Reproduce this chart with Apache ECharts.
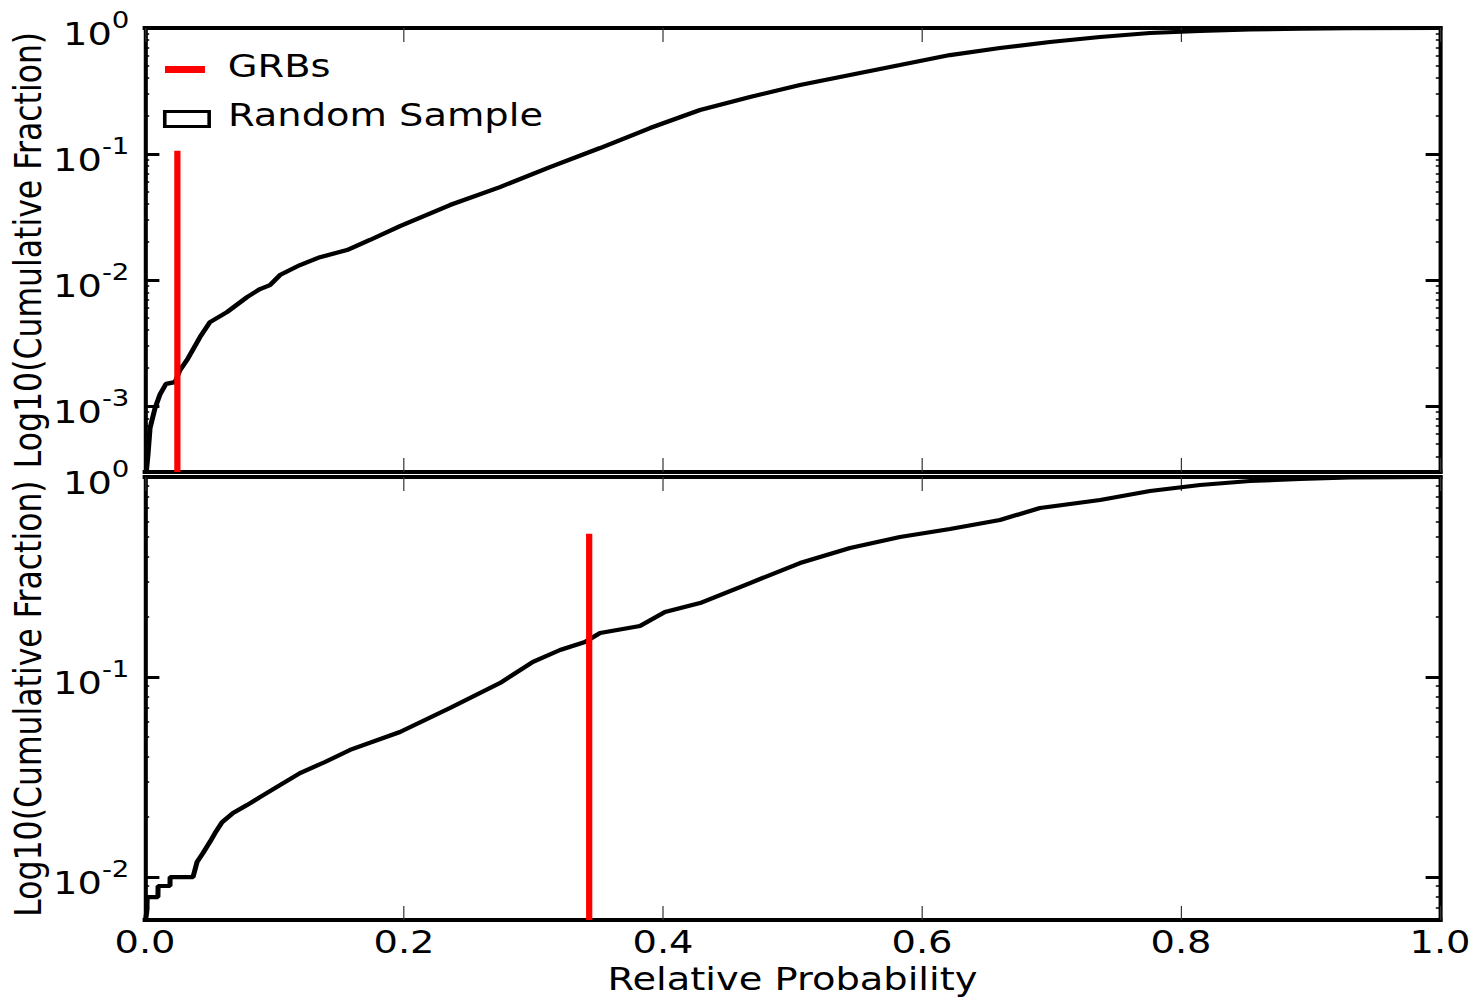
<!DOCTYPE html>
<html>
<head>
<meta charset="utf-8">
<script src="https://cdn.jsdelivr.net/npm/echarts@6/dist/echarts.min.js"></script>
<style>
  html, body { margin: 0; padding: 0; background: #fff; overflow: hidden; }
  #wrap { width: 1481px; height: 1002px; overflow: hidden; }
  /* figure is laid out 1234 px wide and stretched horizontally to 1481 px */
  #chart { width: 1234.17px; height: 1002px; transform: scaleX(1.2); transform-origin: 0 0; }
</style>
</head>
<body>
<div id="wrap"><div id="chart"></div></div>
<script>
// Upper panel: cumulative fraction of the random sample vs. relative probability
const topProb = [0.001, 0.0023, 0.0039, 0.0077, 0.0116, 0.0162, 0.0232, 0.027, 0.0324, 0.0425,
  0.0502, 0.0633, 0.0788, 0.0888, 0.0965, 0.1042, 0.1197, 0.1351, 0.156, 0.1737,
  0.1969, 0.2355, 0.2741, 0.3127, 0.3514, 0.39, 0.4286, 0.4672, 0.5058, 0.5444,
  0.583, 0.6216, 0.6602, 0.6988, 0.7375, 0.7761, 0.8147, 0.8533, 0.892, 0.93, 1.0];
const topFrac = [0.0003, 0.00041, 0.00067, 0.00096, 0.00124, 0.0015, 0.00155, 0.00193, 0.00232, 0.00353,
  0.00464, 0.00557, 0.00733, 0.00849, 0.00912, 0.01096, 0.01316, 0.0152, 0.0173, 0.0208,
  0.0268, 0.0394, 0.0547, 0.0788, 0.1116, 0.1608, 0.2234, 0.2832, 0.353, 0.4237,
  0.508, 0.610, 0.694, 0.774, 0.848, 0.913, 0.947, 0.973, 0.987, 0.996, 1.0];

// Lower panel
const bottomProb = [0.0005, 0.0015, 0.0017, 0.01, 0.0101, 0.0193, 0.0194, 0.0371, 0.0402, 0.0448,
  0.0502, 0.0541, 0.0595, 0.068, 0.0788, 0.0888, 0.1042, 0.1197, 0.139, 0.1583,
  0.1969, 0.2355, 0.2741, 0.2996, 0.3205, 0.3398, 0.3514, 0.3822, 0.4015, 0.4286,
  0.4672, 0.5058, 0.5444, 0.583, 0.6216, 0.6602, 0.6911, 0.7375, 0.7761, 0.8147,
  0.8533, 0.892, 0.93, 1.0];
const bottomFrac = [0.0061, 0.00684, 0.00794, 0.00794, 0.00902, 0.00902, 0.01, 0.01, 0.0119, 0.0132,
  0.015, 0.0166, 0.0188, 0.0209, 0.0229, 0.0251, 0.0288, 0.0331, 0.0376, 0.0432,
  0.0531, 0.070, 0.0933, 0.119, 0.1365, 0.1496, 0.166, 0.180, 0.2113, 0.2344,
  0.2951, 0.3715, 0.4416, 0.501, 0.5495, 0.6095, 0.700, 0.767, 0.851, 0.912,
  0.955, 0.977, 0.994, 1.0];

// GRB markers (upper, lower): position and top of the vertical bar
const grbProb = [0.025, 0.343];
const grbTop = [0.106, 0.52];

// Axis ranges
const fracMin = [3e-4, 0.0061];
const probTicks = [0, 0.2, 0.4, 0.6, 0.8, 1.0];

const FONT = 'DejaVu Sans';
const pairs = (xs, ys) => xs.map((x, i) => [x, ys[i]]);

function powLabel(v) {
  const lg = Math.log10(v);
  const e = Math.round(lg);
  if (Math.abs(lg - e) > 1e-6) return '';
  return '{b|10}{s|' + e + '}';
}

function xAxisFor(gi, pos, showLabel) {
  return {
    type: 'value', gridIndex: gi, position: pos,
    min: probTicks[0], max: probTicks[probTicks.length - 1], interval: 0.2,
    axisLine: { show: true, onZero: false, lineStyle: { color: '#000', width: 4, cap: 'square' } },
    axisTick: { show: true, inside: true, length: 14, lineStyle: { color: '#333', width: 1 } },
    axisLabel: {
      show: showLabel, margin: 6, fontSize: 32, fontFamily: FONT, color: '#000',
      formatter: v => v.toFixed(1)
    },
    splitLine: { show: false }
  };
}

function yAxisFor(gi, pos, min, showLabel) {
  const ax = {
    type: 'log', logBase: 10, gridIndex: gi, position: pos, min: min, max: 1,
    axisLine: { show: true, onZero: false, lineStyle: { color: '#000', width: 3.4, cap: 'square' } },
    axisTick: { show: true, inside: true, length: 12, lineStyle: { color: '#000', width: 3 } },
    minorTick: { show: true, splitNumber: 9, length: 3.5, lineStyle: { color: '#000', width: 1.5 } },
    axisLabel: {
      show: showLabel, margin: 13, formatter: powLabel,
      rich: {
        b: { fontSize: 32, fontFamily: FONT, color: '#000', padding: [12, 0, 0, 0] },
        s: { fontSize: 23, fontFamily: FONT, color: '#000', padding: [0, 0, 16, 0] }
      }
    },
    splitLine: { show: false },
    minorSplitLine: { show: false }
  };
  if (showLabel) {
    ax.name = 'Log10(Cumulative Fraction)';
    ax.nameLocation = 'middle';
    ax.nameGap = 81.5;
    ax.nameMoveOverlap = false;
    ax.nameTextStyle = { fontSize: 31.5, fontFamily: FONT, color: '#000' };
  }
  return ax;
}

function legendText(padLeft) {
  return {
    formatter: name => '{t|' + name + '}',
    textStyle: {
      rich: { t: { fontSize: 32, fontFamily: FONT, color: '#000', padding: [0, 0, 8, padLeft] } }
    }
  };
}

const chart = echarts.init(document.getElementById('chart'), null, { renderer: 'svg' });

chart.setOption({
  animation: false,
  backgroundColor: '#fff',
  grid: [
    { left: 120.83, width: 1079.17, top: 28, height: 444, outerBoundsMode: 'none', containLabel: false },
    { left: 120.83, width: 1079.17, top: 477, height: 443, outerBoundsMode: 'none', containLabel: false }
  ],
  legend: [
    Object.assign({
      data: [{ name: 'GRBs', icon: 'rect', itemStyle: { color: '#ff0000' } }],
      left: 137.5, top: 49.5, padding: 0, itemWidth: 33.3, itemHeight: 7, selectedMode: false
    }, legendText(14)),
    Object.assign({
      data: [{ name: 'Random Sample', icon: 'rect',
               itemStyle: { color: '#fff', borderColor: '#000', borderWidth: 3 } }],
      left: 135.8, top: 99, padding: 0, itemWidth: 37, itemHeight: 15, selectedMode: false
    }, legendText(10.7))
  ],
  xAxis: [
    xAxisFor(0, 'bottom', false),
    xAxisFor(0, 'top', false),
    Object.assign(xAxisFor(1, 'bottom', true), {
      name: 'Relative Probability', nameLocation: 'middle', nameGap: 43, nameMoveOverlap: false,
      nameTextStyle: { fontSize: 32, fontFamily: FONT, color: '#000' }
    }),
    xAxisFor(1, 'top', false)
  ],
  yAxis: [
    yAxisFor(0, 'left', fracMin[0], true),
    yAxisFor(0, 'right', fracMin[0], false),
    yAxisFor(1, 'left', fracMin[1], true),
    yAxisFor(1, 'right', fracMin[1], false)
  ],
  series: [
    {
      type: 'line', name: 'Random Sample', xAxisIndex: 0, yAxisIndex: 0,
      data: pairs(topProb, topFrac), symbol: 'none', showSymbol: false,
      lineStyle: { color: '#000', width: 4.2 }, itemStyle: { color: '#000' }, z: 3
    },
    {
      type: 'line', name: 'Random Sample', xAxisIndex: 2, yAxisIndex: 2,
      data: pairs(bottomProb, bottomFrac), symbol: 'none', showSymbol: false,
      lineStyle: { color: '#000', width: 4.2 }, itemStyle: { color: '#000' }, z: 3
    },
    {
      type: 'line', name: 'GRBs', xAxisIndex: 0, yAxisIndex: 0,
      data: [[grbProb[0], fracMin[0]], [grbProb[0], grbTop[0]]], symbol: 'none', showSymbol: false,
      lineStyle: { color: '#ff0000', width: 5.2 }, itemStyle: { color: '#ff0000' }, z: 4
    },
    {
      type: 'line', name: 'GRBs', xAxisIndex: 2, yAxisIndex: 2,
      data: [[grbProb[1], fracMin[1]], [grbProb[1], grbTop[1]]], symbol: 'none', showSymbol: false,
      lineStyle: { color: '#ff0000', width: 5.2 }, itemStyle: { color: '#ff0000' }, z: 4
    }
  ]
});
</script>
</body>
</html>
